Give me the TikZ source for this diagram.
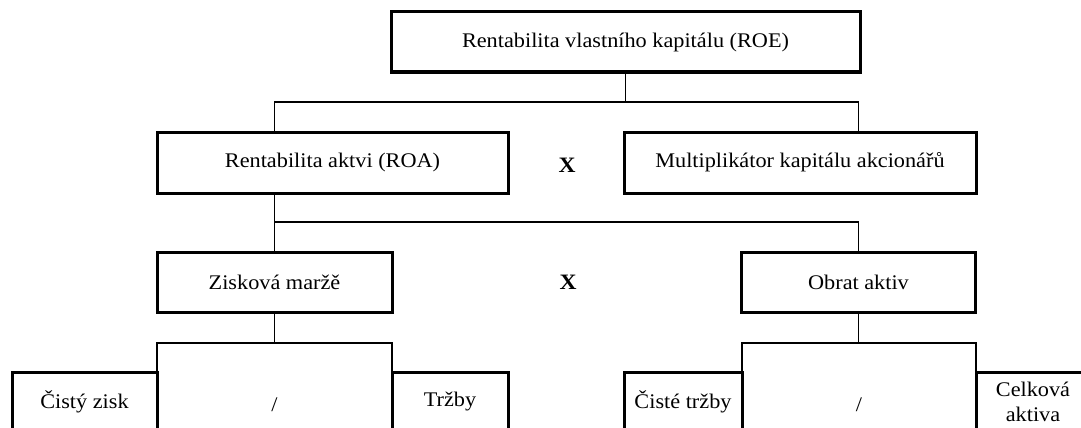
\documentclass[tikz,border=0pt]{standalone}
\usepackage{fontspec}
\setmainfont{Liberation Serif}[FakeStretch=1.07]
\begin{document}
\begin{tikzpicture}[x=1pt,y=-1pt,
  box/.style={draw=black,line width=3pt,outer sep=0pt,inner sep=0pt,
    align=center,font=\fontsize{20.8}{29}\selectfont},
  conn/.style={draw=black,line width=1.3pt},
  txt/.style={inner sep=0pt,font=\fontsize{20.8}{29}\selectfont},
  optxt/.style={inner sep=0pt,font=\fontsize{22}{24}\selectfont\bfseries}]
\useasboundingbox (0,0) rectangle (1081,428);
\node[box,minimum width=469pt,minimum height=60pt] (top) at (625.5,42) {Rentabilita vlastního kapitálu (ROE)};
\node[box,minimum width=351pt,minimum height=61pt] (roa) at (332.5,162.5) {Rentabilita aktvi (ROA)};
\node[box,minimum width=352pt,minimum height=61pt] (mult) at (800,162.5) {Multiplikátor kapitálu akcionářů};
\node[optxt] (x1) at (567,165) {X};
\node[box,minimum width=235pt,minimum height=60pt] (zm) at (274.5,282) {Zisková maržě};
\node[box,minimum width=234pt,minimum height=60pt] (ob) at (858.5,282) {Obrat aktiv};
\node[optxt] (x2) at (568,282) {X};
\node[box,minimum width=145pt,minimum height=60pt] (cz) at (84.5,402) {Čistý zisk};
\node[box,minimum width=116pt,minimum height=60pt] (tr) at (450,402) {Tržby};
\node[txt] (d1) at (274.5,405) {/};
\node[box,minimum width=118pt,minimum height=60pt] (ct) at (683,402) {Čisté tržby};
\node[box,minimum width=114pt,minimum height=60pt] (ca) at (1033,402) {Celková\\[-4pt]aktiva};
\node[txt] (d2) at (859,405) {/};
% level 1 connectors
\draw[conn] (top.south) -- ++(0,30) coordinate (j1);
\draw[conn] (zm.north |- roa.north) |- (j1) -| (ob.north |- mult.north);
% level 2 connectors
\draw[conn] (zm.north |- roa.south) -- ++(0,29) coordinate (j2) -| (ob.north);
\draw[conn] (j2) -- (zm.north);
% level 3 connectors
\draw[conn] (zm.south) -- ++(0,31) coordinate (j3);
\draw[conn] (cz.north east) |- (j3) -| (tr.north west);
\draw[conn] (ob.south) -- ++(0,31) coordinate (j4);
\draw[conn] (ct.north east) |- (j4) -| (ca.north west);
\end{tikzpicture}
\end{document}
